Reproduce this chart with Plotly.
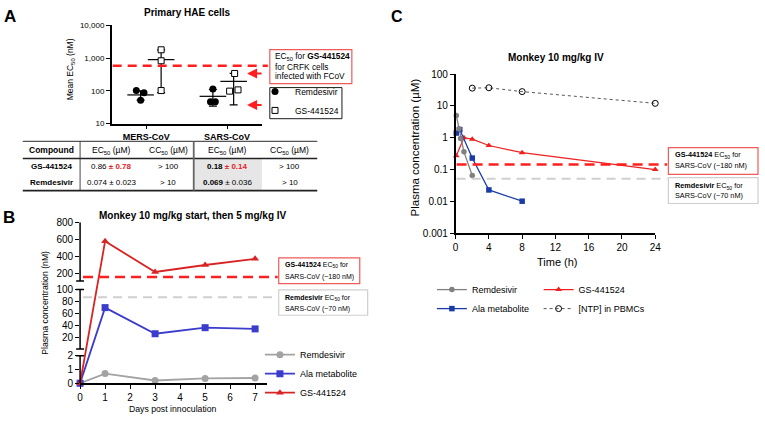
import math
import plotly.graph_objects as go

W, H = 765, 421
FONT = "Liberation Sans, Arial, Helvetica, sans-serif"

# ---------------- Panel A data (EC50, nM) ----------------
A_GROUPS = ["MERS-CoV", "SARS-CoV"]
A_REM_POINTS = [[102, 87, 52], [114, 46, 46]]
A_GS_POINTS = [[1800, 830, 102], [340, 98, 107]]
A_REM_MEAN = [75, 68]
A_REM_LOW = [52, 34]
A_REM_HIGH = [100, 110]
A_GS_MEAN = [900, 195]
A_GS_LOW = [88, 37]
A_GS_HIGH = [1800, 340]
A_FCOV_EC50 = 580
A_ARROW_VALUES = [340, 37]
A_YTICKS = [10, 100, 1000, 10000]
A_YTICKTEXT = ["10", "100", "1,000", "10,000"]

TABLE_HEADER = ["<b>Compound</b>", "EC<sub>50</sub> (µM)", "CC<sub>50</sub> (µM)",
                "EC<sub>50</sub> (µM)", "CC<sub>50</sub> (µM)"]
TABLE_ROWS = [
    ["<b>GS-441524</b>", "0.86 <b><span style='color:#e8202a'>± 0.78</span></b>", "&gt; 100",
     "<b>0.18 <span style='color:#e8202a'>± 0.14</span></b>", "&gt; 100"],
    ["<b>Remdesivir</b>", "0.074 ± 0.023", "&gt; 10", "<b>0.069</b> ± 0.036", "&gt; 10"],
]

# ---------------- Panel B data (nM) ----------------
B_DAYS = [0, 1, 3, 5, 7]
B_REM = [0, 0.7, 0.2, 0.35, 0.38]
B_ALA = [0, 70, 27, 37, 35]
B_GS = [0, 575, 215, 297, 370]
B_GS_EC50 = 155
B_REM_EC50 = 87
B_YTICKS = [0, 1, 2, 20, 40, 60, 80, 100, 200, 400, 600, 800]

# ---------------- Panel C data (µM) ----------------
C_REM_T = [0.083, 0.4, 0.6, 1, 2]
C_REM = [5.0, 1.9, 0.95, 0.36, 0.065]
C_ALA_T = [0.083, 0.5, 2, 4, 8]
C_ALA = [1.4, 1.8, 0.23, 0.023, 0.0102]
C_GS_T = [0.083, 1, 2, 4, 8, 24]
C_GS = [0.27, 1.0, 0.9, 0.57, 0.34, 0.10]
C_NTP_T = [2, 4, 8, 24]
C_NTP = [36, 37, 28, 12]
C_GS_EC50 = 0.145
C_REM_EC50 = 0.052
C_YTICKS = [0.001, 0.01, 0.1, 1, 10, 100]
C_YTICKTEXT = ["0.001", "0.01", "0.1", "1", "10", "100"]


# ---------------- layout helpers ----------------
def px(x):
    return x / W


def py(y):
    return 1 - y / H


BOXRED = "#f05a5a"
GRAYLINE = "#cfcfcf"

# Panel A group positions (x axis units: MERS tick = 1, SARS tick = 2)
A_TICK_POS = [1, 2]
A_REM_POS = [0.93, 1.825]
A_GS_POS = [1.184, 2.082]
A_REM_JIT = [[-0.053, 0.042, 0.0], [0.0, -0.03, 0.03]]
A_GS_JIT = [[0.0, 0.0, 0.0], [0.012, -0.05, 0.054]]

# Panel B broken axis: (value_lo, value_hi, pixel_lo, pixel_hi)
B_SEG = [(0, 2, 388.3, 360.0), (2, 100, 353.0, 291.7), (110, 800, 283.0, 222.5)]
B_BOTTOM, B_TOP = 388.3, 222.5


def b_map(v):
    for lo, hi, plo, phi in B_SEG:
        if lo <= v <= hi:
            return B_BOTTOM - (plo + (v - lo) / (hi - lo) * (phi - plo))
    return float("nan")


fig = go.Figure()

# ---------------- Panel A traces ----------------
for pos, mean, lo, hi in [(A_REM_POS, A_REM_MEAN, A_REM_LOW, A_REM_HIGH),
                          (A_GS_POS, A_GS_MEAN, A_GS_LOW, A_GS_HIGH)]:
    fig.add_trace(go.Scatter(
        x=pos, y=mean, mode="markers", xaxis="x", yaxis="y",
        marker=dict(symbol="line-ew", size=19, color="black",
                    line=dict(width=1.2, color="black")),
        error_y=dict(type="data", symmetric=False,
                     array=[h - m for h, m in zip(hi, mean)],
                     arrayminus=[m - l for m, l in zip(mean, lo)],
                     width=4, thickness=1.2, color="black"),
        showlegend=False, hoverinfo="skip", cliponaxis=False))

rx, ry, gx, gy = [], [], [], []
for g in range(len(A_GROUPS)):
    for j, v in enumerate(A_REM_POINTS[g]):
        rx.append(A_REM_POS[g] + A_REM_JIT[g][j]); ry.append(v)
    for j, v in enumerate(A_GS_POINTS[g]):
        gx.append(A_GS_POS[g] + A_GS_JIT[g][j]); gy.append(v)

fig.add_trace(go.Scatter(x=rx, y=ry, mode="markers", name="Remdesivir", xaxis="x", yaxis="y",
                         marker=dict(symbol="circle", size=7, color="black"),
                         legend="legend", cliponaxis=False))
fig.add_trace(go.Scatter(x=gx, y=gy, mode="markers", name="GS-441524", xaxis="x", yaxis="y",
                         marker=dict(symbol="square", size=6, color="white",
                                     line=dict(width=1, color="black")),
                         legend="legend", cliponaxis=False))

# ---------------- Panel B traces ----------------
B_STYLE = [("Remdesivir", B_REM, "#a3a3a3", "circle", 7),
           ("Ala metabolite", B_ALA, "#3b3bcc", "square", 7),
           ("GS-441524", B_GS, "#d82424", "triangle-up", 7)]
for name, vals, col, sym, size in B_STYLE:
    fig.add_trace(go.Scatter(
        x=B_DAYS, y=[b_map(v) for v in vals], mode="lines+markers", name=name,
        xaxis="x2", yaxis="y2", legend="legend2", cliponaxis=False,
        line=dict(color=col, width=1.8),
        marker=dict(symbol=sym, size=size, color=col),
        customdata=vals, hovertemplate="%{x}: %{customdata}<extra></extra>"))

# ---------------- Panel C traces ----------------
fig.add_trace(go.Scatter(x=C_NTP_T, y=C_NTP, mode="lines+markers", name="[NTP] in PBMCs",
                         xaxis="x3", yaxis="y3", legend="legend4", cliponaxis=False,
                         line=dict(color="#444444", width=0.9, dash="dot"),
                         marker=dict(symbol="circle-open", size=6, color="black",
                                     line=dict(width=1, color="black"))))
fig.add_trace(go.Scatter(x=C_GS_T, y=C_GS, mode="lines+markers", name="GS-441524",
                         xaxis="x3", yaxis="y3", legend="legend4", cliponaxis=False,
                         line=dict(color="#f02020", width=1.2),
                         marker=dict(symbol="triangle-up", size=6, color="#f02020")))
fig.add_trace(go.Scatter(x=C_ALA_T, y=C_ALA, mode="lines+markers", name="Ala metabolite",
                         xaxis="x3", yaxis="y3", legend="legend3", cliponaxis=False,
                         line=dict(color="#1a3aa8", width=1.3),
                         marker=dict(symbol="square", size=5.5, color="#1a3aa8")))
fig.add_trace(go.Scatter(x=C_REM_T, y=C_REM, mode="lines+markers", name="Remdesivir",
                         xaxis="x3", yaxis="y3", legend="legend3", cliponaxis=False,
                         line=dict(color="#808080", width=1.3),
                         marker=dict(symbol="circle", size=5.5, color="#808080")))

# ---------------- shapes ----------------
shapes = []


def pline(x0, y0, x1, y1, color="black", width=1.2):
    shapes.append(dict(type="line", xref="paper", yref="paper", x0=px(x0), y0=py(y0),
                       x1=px(x1), y1=py(y1), line=dict(color=color, width=width)))


def prect(x0, y0, x1, y1, color, width=1.2, fill="rgba(0,0,0,0)"):
    shapes.append(dict(type="rect", xref="paper", yref="paper", x0=px(x0), y0=py(y0),
                       x1=px(x1), y1=py(y1), line=dict(color=color, width=width),
                       fillcolor=fill, layer="below"))


# Panel A reference line + boxes
shapes.append(dict(type="line", xref="paper", yref="y", x0=px(111), x1=px(268),
                   y0=A_FCOV_EC50, y1=A_FCOV_EC50,
                   line=dict(color="#ff1f1f", width=2.5, dash="9px,6px")))
prect(270, 45, 353, 80, BOXRED, 1.2, "white")
prect(270, 84, 343, 116, "black", 0.9, "white")

# Table
prect(193, 157, 262, 190, "rgba(0,0,0,0)", 0, "#e6e6e6")
pline(20, 139.3, 318, 139.3, "#555555", 1.3)
pline(20, 157, 318, 157, "#222222", 1.6)
pline(20, 190, 318, 190, "#222222", 1.6)
pline(78, 139.3, 78, 190, "#333333", 0.9)
pline(193, 139.3, 193, 190, "#666666", 1.8)

# Panel B broken y axis
for i, (lo, hi, plo, phi) in enumerate(B_SEG):
    shapes.append(dict(type="line", xref="paper", yref="y2", x0=px(78), x1=px(78),
                       y0=B_BOTTOM - plo, y1=B_BOTTOM - phi,
                       line=dict(color="black", width=1.5)))
    ends = []
    if i > 0:
        ends.append(B_BOTTOM - plo)
    if i < len(B_SEG) - 1:
        ends.append(B_BOTTOM - phi)
    for e in ends:
        shapes.append(dict(type="line", xref="paper", yref="y2", x0=px(74), x1=px(82),
                           y0=e, y1=e, line=dict(color="black", width=1.5)))
shapes.append(dict(type="line", xref="paper", yref="y2", x0=px(81), x1=px(278),
                   y0=b_map(B_GS_EC50), y1=b_map(B_GS_EC50),
                   line=dict(color="#ff1f1f", width=2.5, dash="10px,6px")))
shapes.append(dict(type="line", xref="paper", yref="y2", x0=px(81), x1=px(278),
                   y0=b_map(B_REM_EC50), y1=b_map(B_REM_EC50),
                   line=dict(color=GRAYLINE, width=2, dash="9px,6px")))
prect(279, 259.3, 361, 285.7, BOXRED, 1.2, "white")
prect(279, 292.3, 369, 318.3, GRAYLINE, 1.2, "white")

# Panel C reference lines and boxes
shapes.append(dict(type="line", xref="paper", yref="y3", x0=px(459), x1=px(672),
                   y0=C_GS_EC50, y1=C_GS_EC50,
                   line=dict(color="#ff1f1f", width=2.5, dash="10px,6px")))
shapes.append(dict(type="line", xref="paper", yref="y3", x0=px(459), x1=px(672),
                   y0=C_REM_EC50, y1=C_REM_EC50,
                   line=dict(color=GRAYLINE, width=2, dash="9px,6px")))
prect(673.3, 145.7, 764, 173.3, BOXRED, 1.2, "white")
prect(673.3, 176.7, 764, 203.3, GRAYLINE, 1.2, "white")

# ---------------- annotations ----------------
ann = []


def txt(x, y, s, size=9, bold=False, xanchor="center", yanchor="middle", color="black", angle=0):
    ann.append(dict(x=px(x), y=py(y), xref="paper", yref="paper",
                    text=f"<b>{s}</b>" if bold else s, showarrow=False,
                    font=dict(size=size, color=color, family=FONT),
                    xanchor=xanchor, yanchor=yanchor, textangle=angle, borderpad=0))


txt(7.5, 10.5, "A", 17, True)
txt(6.5, 217.5, "B", 17, True)
txt(399, 10.5, "C", 16, True)

txt(187, 7, "Primary HAE cells", 10, True)
txt(192, 216, "Monkey 10 mg/kg start, then 5 mg/kg IV", 10, True)
txt(560, 53, "Monkey 10 mg/kg IV", 10, True)

txt(68, 65, "Mean EC<sub>50</sub> (nM)", 8.5, angle=-90)
txt(43, 305, "Plasma concentration (nM)", 8.7, angle=-90)
txt(172, 415, "Days post innoculation", 8.7)
txt(416.5, 146, "Plasma concentration (µM)", 11.5, angle=-90)
txt(561, 263, "Time (h)", 11)

# box texts
txt(274, 52.3, "EC<sub>50</sub> for <b>GS-441524</b>", 8.3, xanchor="left")
txt(274, 62.3, "for CRFK cells", 8.3, xanchor="left")
txt(274, 72, "infected with FCoV", 8.3, xanchor="left")
txt(284, 266.7, "<b>GS-441524</b> EC<sub>50</sub> for", 7, xanchor="left")
txt(284, 279.3, "SARS-CoV (~180 nM)", 7, xanchor="left")
txt(284, 301, "<b>Remdesivir</b> EC<sub>50</sub> for", 7, xanchor="left")
txt(284, 311.5, "SARS-CoV (~70 nM)", 7, xanchor="left")
txt(679, 153.7, "<b>GS-441524</b> EC<sub>50</sub> for", 7.3, xanchor="left")
txt(679, 164.5, "SARS-CoV (~180 nM)", 7.3, xanchor="left")
txt(679, 185, "<b>Remdesivir</b> EC<sub>50</sub> for", 7.3, xanchor="left")
txt(679, 195.5, "SARS-CoV (~70 nM)", 7.3, xanchor="left")

# table texts
COL_X = [49, 110, 167, 227, 290]
for cx, s in zip(COL_X, TABLE_HEADER):
    txt(cx, 148.5, s, 8.5)
for ry_, row in zip([165, 182], TABLE_ROWS):
    for cx, s in zip(COL_X, row):
        txt(cx, ry_, s, 8)

# arrows in panel A
for v in A_ARROW_VALUES:
    ann.append(dict(x=px(247), y=math.log10(v), xref="paper", yref="y", text="",
                    showarrow=True, ax=16, ay=0, arrowhead=2, arrowsize=1,
                    arrowwidth=2, arrowcolor="#ff1f1f", standoff=0))

# ---------------- axes ----------------
axis_common = dict(showgrid=False, zeroline=False, ticks="outside", ticklen=4, tickwidth=1.2,
                   tickcolor="black", linecolor="black", linewidth=1.5, fixedrange=True)

fig.update_layout(
    width=W, height=H, margin=dict(l=0, r=0, t=0, b=0),
    paper_bgcolor="white", plot_bgcolor="white",
    font=dict(family=FONT, color="black"),
    showlegend=True,
    xaxis=dict(domain=[px(110), px(262)], range=[0.572, 2.432], tickmode="array",
               tickvals=A_TICK_POS, ticktext=[f"<b>{g}</b>" for g in A_GROUPS],
               showline=True, anchor="y", tickfont=dict(size=9, family=FONT), **axis_common),
    yaxis=dict(domain=[py(121), py(20)], type="log", range=[1, 4], tickmode="array",
               tickvals=A_YTICKS, ticktext=A_YTICKTEXT, showline=True, anchor="x",
               tickfont=dict(size=8, family=FONT), **axis_common),
    xaxis2=dict(domain=[px(78), px(267)], range=[0, 7.47], tickmode="linear", tick0=0, dtick=1,
                showline=True, anchor="y2", tickfont=dict(size=10, family=FONT), **axis_common),
    yaxis2=dict(domain=[py(B_BOTTOM), py(B_TOP)], range=[0, B_BOTTOM - B_TOP], tickmode="array",
                tickvals=[b_map(v) for v in B_YTICKS], ticktext=[str(v) for v in B_YTICKS],
                showline=False, anchor="x2", tickfont=dict(size=10, family=FONT), **axis_common),
    xaxis3=dict(domain=[px(458), px(660)], range=[0, 24], tickmode="linear", tick0=0, dtick=4,
                showline=True, anchor="y3", tickfont=dict(size=10, family=FONT), **axis_common),
    yaxis3=dict(domain=[py(234), py(70)], type="log", range=[-3, 2], tickmode="array",
                tickvals=C_YTICKS, ticktext=C_YTICKTEXT, showline=True, anchor="x3",
                tickfont=dict(size=10, family=FONT), **axis_common),
    legend=dict(x=px(255), y=py(73), xanchor="left", yanchor="top", bgcolor="rgba(0,0,0,0)",
                borderwidth=0, font=dict(size=8.5, family=FONT), tracegroupgap=0),
    legend2=dict(x=px(260), y=py(344), xanchor="left", yanchor="top", bgcolor="rgba(0,0,0,0)",
                 borderwidth=0, font=dict(size=9, family=FONT), tracegroupgap=0),
    legend3=dict(x=px(434), y=py(277), xanchor="left", yanchor="top", bgcolor="rgba(0,0,0,0)",
                 borderwidth=0, font=dict(size=9, family=FONT), tracegroupgap=0,
                 traceorder="reversed"),
    legend4=dict(x=px(542), y=py(277), xanchor="left", yanchor="top", bgcolor="rgba(0,0,0,0)",
                 borderwidth=0, font=dict(size=9, family=FONT), tracegroupgap=0,
                 traceorder="reversed"),
    shapes=shapes, annotations=ann,
)

fig.write_html("out.html", config={"displayModeBar": False},
               post_script="document.body.style.margin='0px';document.body.style.padding='0px';"
                           "document.body.style.overflow='hidden';")
